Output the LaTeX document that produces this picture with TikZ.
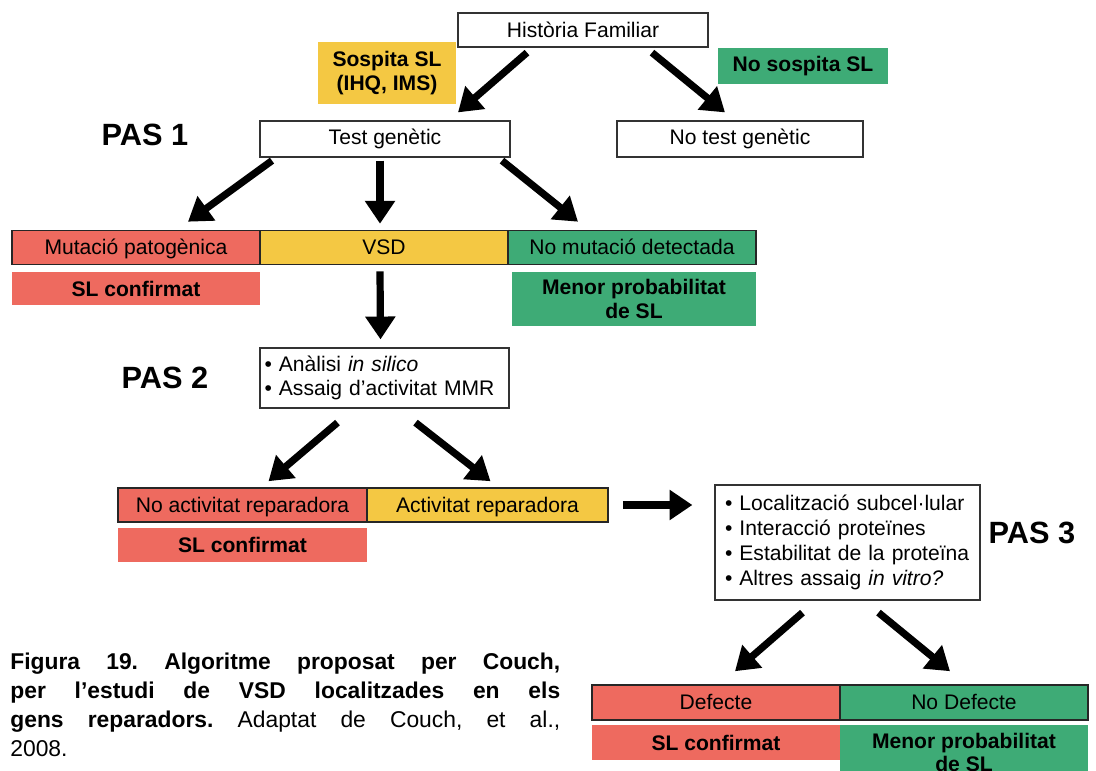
\documentclass[tikz,border=0pt]{standalone}
\usepackage{fontspec}
\setmainfont{Liberation Sans}
\usetikzlibrary{arrows.meta,calc}

\definecolor{vermell}{RGB}{238,106,95}
\definecolor{groc}{RGB}{244,200,67}
\definecolor{verd}{RGB}{62,171,118}

\begin{document}
\begin{tikzpicture}[x=0.02cm, y=-0.02cm,
    caixa/.style={draw=black!80, fill=white, line width=0.7pt, inner sep=0pt,
      font=\fontsize{12}{13.8}\selectfont},
    fila/.style={draw=black!85, line width=0.9pt, inner sep=0pt, minimum width=4.96cm,
      minimum height=0.68cm, text height=10pt, text depth=2pt, font=\fontsize{12}{14}\selectfont},
    etiq/.style={inner sep=0pt, align=center, font=\bfseries\fontsize{12}{13.4}\selectfont},
    pas/.style={inner sep=0pt, font=\bfseries\fontsize{17.5}{20}\selectfont},
    fletxa/.style={line width=4.1pt, -{Triangle[length=13pt,width=16.5pt]}}]
\useasboundingbox (0,0) rectangle (1096,771);
\clip (0,0) rectangle (1096,771);

% pas 1
\node[caixa, minimum width=5cm, minimum height=0.68cm] (historia) at (583,30) {Història Familiar};
\node[etiq, fill=groc, minimum width=2.76cm, minimum height=1.24cm] (sospita) at (387,73) {Sospita SL\\(IHQ, IMS)};
\node[etiq, fill=verd, minimum width=3.4cm, minimum height=0.72cm] (nosospita) at (803,66) {No sospita SL};
\node[caixa, minimum width=5cm, minimum height=0.72cm] (test) at (385,139) {Test genètic};
\node[caixa, minimum width=4.92cm, minimum height=0.72cm] (notest) at (740,139) {No test genètic};
\node[pas] (pas1) at (145,135) {PAS 1};

\node[fila, fill=vermell] (mutacio) at (136,247.5) {Mutació patogènica};
\node[fila, fill=groc] (vsd) at (384,247.5) {VSD};
\node[fila, fill=verd] (nomut) at (632,247.5) {No mutació detectada};
\node[etiq, fill=vermell, minimum width=4.96cm, minimum height=0.66cm] (slconf1) at (136,288.5) {SL confirmat};
\node[etiq, fill=verd, minimum width=4.88cm, minimum height=1.08cm] (menor1) at (634,299) {Menor probabilitat\\de SL};

% pas 2
\node[caixa, minimum width=4.98cm, minimum height=1.2cm, align=left, text width=4.8cm] (analisi) at (384.5,378)
  {• Anàlisi \textit{in silico}\\• Assaig d’activitat MMR};
\node[pas] (pas2) at (165,378) {PAS 2};

\node[fila, fill=vermell, minimum width=4.98cm] (noact) at (242.5,505) {No activitat reparadora};
\node[fila, fill=groc, minimum width=4.82cm] (act) at (487.5,505) {Activitat reparadora};
\node[etiq, fill=vermell, minimum width=4.98cm, minimum height=0.68cm] (slconf2) at (242.5,545) {SL confirmat};

% pas 3
\node[caixa, minimum width=5.3cm, minimum height=2.3cm, align=left, text width=4.9cm,
  font=\fontsize{12}{14.2}\selectfont] (assaigs) at (847.5,542.5)
  {• Localització subcel·lular\\• Interacció proteïnes\\• Estabilitat de la proteïna\\• Altres assaig \textit{in vitro?}};
\node[pas] (pas3) at (1032,533) {PAS 3};

\node[fila, fill=vermell, minimum height=0.7cm] (defecte) at (716,702.5) {Defecte};
\node[fila, fill=verd, minimum height=0.7cm] (nodefecte) at (964,702.5) {No Defecte};
\node[etiq, fill=vermell, minimum width=4.96cm, minimum height=0.7cm] (slconf3) at (716,742.5) {SL confirmat};
\node[etiq, fill=verd, minimum width=4.96cm, minimum height=1.1cm] (menor3) at (964,752.5) {Menor probabilitat\\de SL};

% fletxes
\draw[fletxa] ($(historia.south)+(-56,5)$) -- ($(test.north)+(73,-8)$);
\draw[fletxa] ($(historia.south)+(69,5)$) -- ($(notest.north)+(-15,-8)$);
\draw[fletxa] ($(test.south)+(-113,3)$) -- ($(mutacio.north)+(52,-8)$);
\draw[fletxa] ($(test.south)+(-5,3)$) -- ($(vsd.north)+(-4,-6)$);
\draw[fletxa] ($(test.south)+(117,3)$) -- ($(nomut.north)+(-54,-8)$);
\draw[fletxa] ($(vsd.south)+(-4,6)$) -- ($(analisi.north)+(-4,-8)$);
\draw[fletxa] ($(analisi.south)+(-47,14)$) -- ($(noact.north)+(26,-6)$);
\draw[fletxa] ($(analisi.south)+(31,14)$) -- ($(act.north)+(3,-6)$);
\draw[fletxa] ($(act.east)+(14,0)$) -- ($(assaigs.west |- act.east)+(-22,0)$);
\draw[fletxa] ($(assaigs.south)+(-45,12)$) -- ($(defecte.north)+(19,-13)$);
\draw[fletxa] ($(assaigs.south)+(31,12)$) -- ($(nodefecte.north)+(-14,-13)$);

% peu de figura
\node[anchor=north west, inner sep=0pt, text width=11cm, align=justify,
  font=\frenchspacing\fontsize{13}{16.4}\selectfont] (peu) at (10,653)
  {\textbf{Figura 19. Algoritme proposat per Couch,\linebreak per l’estudi de VSD localitzades en els\linebreak gens reparadors.} Adaptat de Couch, et al.,\linebreak 2008.};
\end{tikzpicture}
\end{document}
